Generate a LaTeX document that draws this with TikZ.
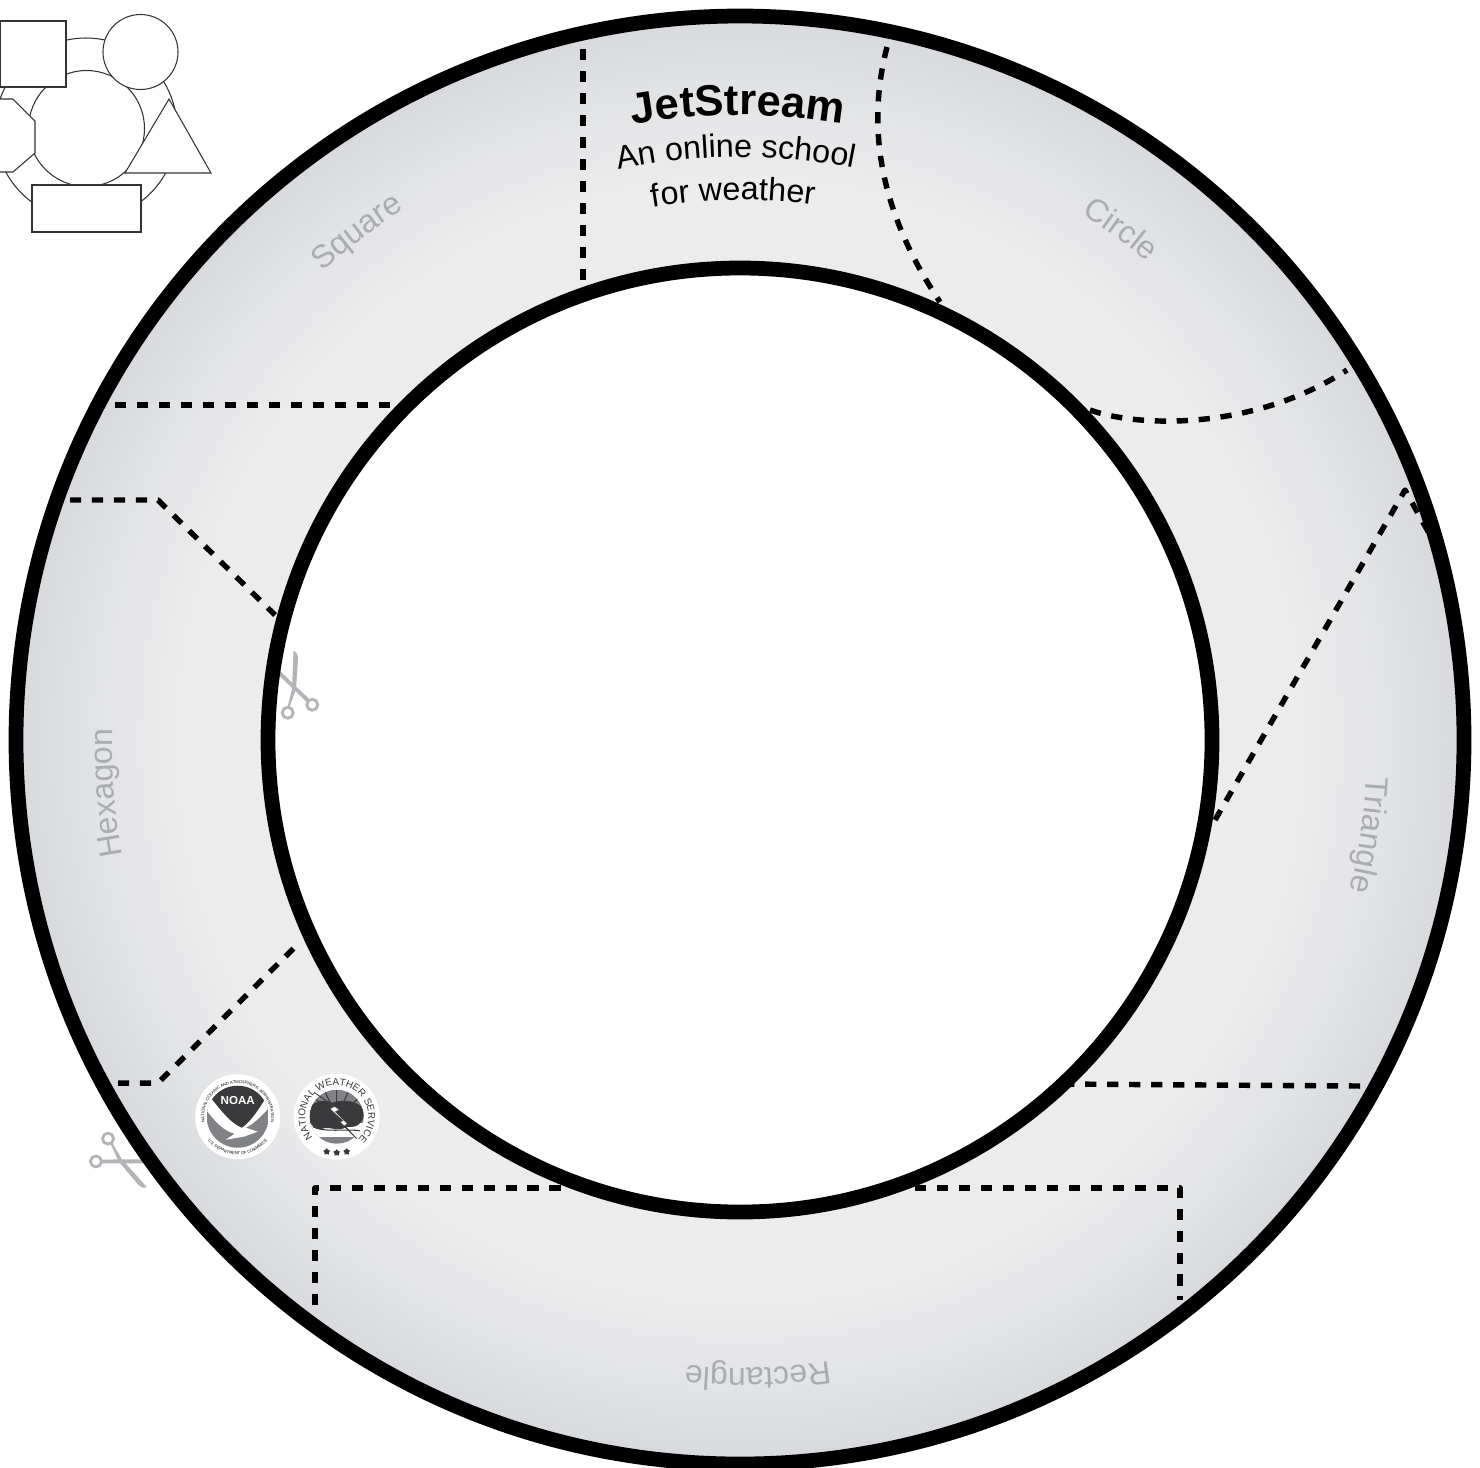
\documentclass[tikz,border=0pt]{standalone}
\usepackage{fontspec}
\setmainfont{Liberation Sans}
\usepackage{xcolor}
\usetikzlibrary{decorations.text, shapes.geometric}
\definecolor{ringdark}{RGB}{215,217,220}
\definecolor{ringmid}{RGB}{227,228,230}
\definecolor{ringlight}{RGB}{236,236,237}
\definecolor{labelgray}{RGB}{170,172,175}
\definecolor{scissorgray}{RGB}{178,180,183}
\definecolor{logodark}{RGB}{58,58,60}
\definecolor{logogray}{RGB}{128,130,133}
\pgfdeclareradialshading{ringshade}{\pgfpoint{0bp}{0bp}}{%
  color(0bp)=(ringlight); color(16bp)=(ringlight); color(19.3bp)=(ringlight);
  color(22.1bp)=(ringmid); color(25bp)=(ringdark); color(50bp)=(ringdark)}
\newcommand{\lblfont}{\color{labelgray}\fontsize{9.1}{11}\selectfont}
\newcommand{\jetfont}{\fontsize{12.4}{15}\selectfont\bfseries}
\newcommand{\subfont}{\fontsize{9.2}{11}\selectfont}
\newcommand{\wsfont}{\color{black}\fontsize{1.15}{1.4}\selectfont}
\newcommand{\nwsfont}{\color{logodark}\fontsize{2.8}{4}\selectfont}

\begin{document}
\begin{tikzpicture}[
  x=0.1mm, y=0.1mm,
  cutline/.style={draw=black, line width=1.55pt, line join=round, dash pattern=on 3.2pt off 3.05pt},
  ringline/.style={draw=black, line width=4.2pt},
  shapeline/.style={draw=black!80, fill=white, line width=0.3pt},
  arclabel/.style={decoration={text along path, text align=center, text={#1}}, decorate},
  scissors/.pic={
    \fill[scissorgray] (-0.5,38) .. controls (3,37) and (4,34) .. (4,30)
      -- (2,0) -- (-4.5,-18.5) -- (-6.5,-18) -- (-2,0) -- cycle;
    \draw[scissorgray, line width=1.1pt] (-24,25) -- (15,-12.5);
    \draw[scissorgray, line width=0.8pt] (-6.3,-23.7) circle[radius=5.5];
    \draw[scissorgray, line width=0.8pt] (18.3,-15.7) circle[radius=5.5];
  },
]
\useasboundingbox (0,0) rectangle (1480,-1467);
\coordinate (ring) at (740,-740);

% Ring
\shade[shading=ringshade] (ring) circle[radius=724];
\fill[white] (ring) circle[radius=472];

% Scissors
\pic[rotate=0] at (294,-689) {scissors};
\pic[rotate=-136] at (120,-1160) {scissors};

% Cut lines
\draw[cutline] (583,-49) -- (583,-280);
\draw[cutline] (887,-47) .. controls (868,-120) and (875,-205) .. (940,-302);
\draw[cutline] (1090,-410) .. controls (1140,-428) and (1255,-430) .. (1347,-370);
\draw[cutline] (1215,-820) -- (1405,-490) -- (1430,-535);
\draw[cutline] (1360,-1086) -- (1060,-1084);
\draw[cutline] (315,-1305) -- (315,-1188) -- (570,-1188);
\draw[cutline] (915,-1188) -- (1180,-1188) -- (1180,-1300);
\draw[cutline] (118,-1083) -- (158,-1083) -- (300,-942);
\draw[cutline] (70,-500) -- (158,-500) -- (275,-615);
\draw[cutline] (115,-405) -- (395,-405);

\draw[ringline] (ring) circle[radius=724];
\draw[ringline] (ring) circle[radius=472];

% Labels on the ring
\foreach \ang/\name in {127/Square, 53.3/Circle, -8.6/Triangle, -88.4/Rectangle, 184.8/Hexagon}
  \path[arclabel={|\lblfont|\name}] ([shift={(\ang+30:628)}]ring)
    arc[start angle=\ang+30, end angle=\ang-30, radius=628];
\path[arclabel={|\jetfont|JetStream}] ([shift={(115.2:625)}]ring)
  arc[start angle=115.2, end angle=65.2, radius=625];
\path[arclabel={|\subfont|An online school}] ([shift={(120.4:583)}]ring)
  arc[start angle=120.4, end angle=60.4, radius=583];
\path[arclabel={|\subfont|for weather}] ([shift={(120.7:540)}]ring)
  arc[start angle=120.7, end angle=60.7, radius=540];

% Shape key
\draw[shapeline] (86,-129) circle[radius=91];
\draw[shapeline] (86.5,-128.5) circle[radius=58];
\draw[shapeline] (0,-21) rectangle (66,-87);
\draw[shapeline] (140.5,-52) circle[radius=37.5];
\draw[shapeline] (169,-99) -- (211,-173) -- (125,-173) -- cycle;
\draw[shapeline] (-20,-99) -- (13,-99) -- (35,-121) -- (35,-153) -- (13,-172) -- (-20,-172) -- cycle;
\draw[shapeline] (32,-185) rectangle (141,-232);

% NOAA logo
\begin{scope}[shift={(237.7,-1116.7)}]
  \fill[white] (0,0) circle[radius=42.5];
  \begin{scope}
    \clip (0,0) circle[radius=31];
    \fill[logogray] (-31,-31) rectangle (31,31);
    \fill[white] (-34,10) .. controls (-22,-6) and (-14,-14) .. (-3,-17) -- (-12,-23)
      -- (6,-20) -- (20,-15) -- (8,-11) .. controls (18,-6) and (26,3) .. (34,12) -- (34,34) -- (-34,34) -- cycle;
    \fill[logodark] (-31,24) .. controls (-18,8) and (-8,-6) .. (4,-11)
      .. controls (12,-6) and (22,8) .. (31,24) -- (31,34) -- (-31,34) -- cycle;
  \end{scope}
  \node[text=white, inner sep=0pt, font=\fontsize{3.3}{4}\selectfont\bfseries] (noaaname) at (0,16.5) {NOAA};
  \path[arclabel={|\wsfont|NATIONAL OCEANIC AND ATMOSPHERIC ADMINISTRATION}] (190:33.5)
    arc[start angle=190, end angle=-10, radius=33.5];
  \path[arclabel={|\wsfont|U.S. DEPARTMENT OF COMMERCE}] (205:38)
    arc[start angle=205, end angle=335, radius=38];
\end{scope}

% NWS logo
\begin{scope}[shift={(336.7,-1116.7)}]
  \fill[white] (0,0) circle[radius=43];
  \begin{scope}
    \clip (0,0) circle[radius=27];
    \fill[logogray] (-27,-27) rectangle (27,27);
    \foreach \ang in {40,65,90,115,140}
      \draw[logodark, line width=0.3pt] (0,0) -- (\ang:27);
    \fill[white] (-27,-6) rectangle (27,-20);
    \fill[logodark] (-28,6) .. controls (-26,15) and (-14,18) .. (-4,14)
      .. controls (6,18) and (24,16) .. (27,6) .. controls (28,-4) and (22,-12) .. (10,-10)
      .. controls (2,-16) and (-8,-9) .. (-14,-12) .. controls (-24,-14) and (-30,-4) .. (-28,6) -- cycle;
    \draw[logodark, line width=0.3pt] (-24,-10) .. controls (-12,-16) and (8,-12) .. (24,-14);
  \end{scope}
  \draw[fill=white, draw=logodark, line width=0.2pt] (-22,24) -- (-3,10) -- (-7,8) -- (6,-4) -- (3,-5) -- (20,-22)
    -- (8,-9) -- (11,-7) -- (-1,5) -- (3,7) -- cycle;
  \path[arclabel={|\nwsfont|NATIONAL WEATHER SERVICE}] (222:31.5)
    arc[start angle=222, end angle=-48, radius=31.5];
  \foreach \i/\sx/\sy in {1/-10/-35, 2/0/-36, 3/10/-35}
    \node[star, star points=5, fill=logodark, inner sep=0pt, minimum size=0.7mm] (nwsstar\i) at (\sx,\sy) {};
\end{scope}

\end{tikzpicture}
\end{document}
